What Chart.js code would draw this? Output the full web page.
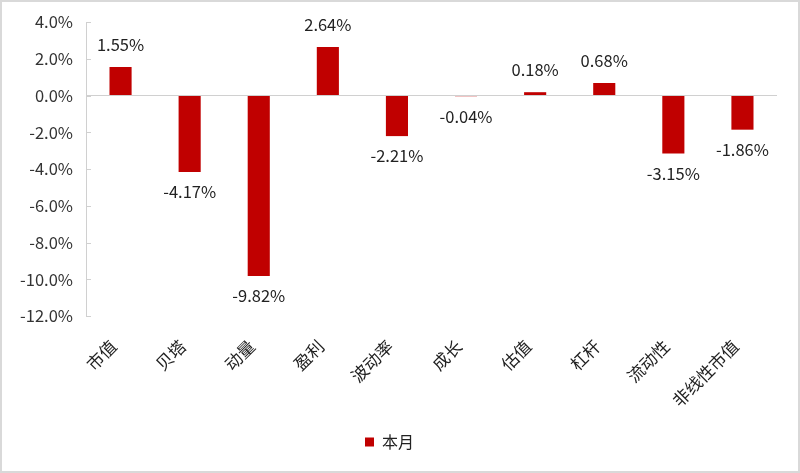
<!DOCTYPE html>
<html>
<head>
<meta charset="utf-8">
<script src="https://cdn.jsdelivr.net/npm/chart.js@4/dist/chart.umd.min.js"></script>
<style>
html,body{margin:0;padding:0;background:#fff;}
#wrap{width:800px;height:473px;box-sizing:border-box;border:2px solid #d9d9d9;position:relative;}
</style>
</head>
<body>
<div id="wrap"><canvas id="c"></canvas></div>
<script>
const categories = ['市值','贝塔','动量','盈利','波动率','成长','估值','杠杆','流动性','非线性市值'];
const seriesName = '本月';
const values = [1.55, -4.17, -9.82, 2.64, -2.21, -0.04, 0.18, 0.68, -3.15, -1.86];
const yMin = -12, yMax = 4, yStep = 2;

const FONT = '"Noto Sans CJK SC", "Noto Sans", sans-serif';
const RED = '#C00000';
const AXIS = '#d0d0d0';

const labelPlugin = {
  id: 'barLabels',
  afterDatasetsDraw(chart) {
    const ctx = chart.ctx;
    const meta = chart.getDatasetMeta(0);
    ctx.save();
    ctx.font = '16.5px ' + FONT;
    ctx.fillStyle = '#222';
    ctx.textAlign = 'center';
    ctx.textBaseline = 'middle';
    meta.data.forEach((bar, i) => {
      const v = values[i];
      const y = v >= 0 ? bar.y - 22 : bar.y + 20;
      ctx.fillText(v.toFixed(2) + '%', bar.x, y);
    });
    // inward tick marks on the y axis
    const ys = chart.scales.y;
    ctx.strokeStyle = AXIS;
    ctx.lineWidth = 1;
    ys.ticks.forEach(t => {
      const py = Math.round(ys.getPixelForValue(t.value)) + 0.5;
      ctx.beginPath();
      ctx.moveTo(ys.right, py);
      ctx.lineTo(ys.right + 5, py);
      ctx.stroke();
    });
    ctx.restore();
  }
};

new Chart(document.getElementById('c'), {
  type: 'bar',
  data: {
    labels: categories,
    datasets: [{
      label: seriesName,
      data: values,
      backgroundColor: RED,
      borderWidth: 0,
      barPercentage: 0.32,
      categoryPercentage: 1.0
    }]
  },
  options: {
    responsive: true,
    maintainAspectRatio: false,
    animation: false,
    layout: { padding: { top: 20, right: 21, left: 0, bottom: 11 } },
    plugins: {
      legend: {
        position: 'bottom',
        labels: {
          boxWidth: 9, boxHeight: 9,
          color: '#222',
          font: { size: 16, family: FONT },
          padding: 8
        }
      },
      tooltip: { enabled: false }
    },
    scales: {
      x: {
        grid: { display: false },
        border: { display: false },
        afterFit: s => { s.height = 110; s.paddingLeft = 0; s.paddingRight = 0; },
        ticks: {
          color: '#222',
          font: { size: 17, family: FONT },
          minRotation: 45, maxRotation: 45,
          autoSkip: false,
          padding: 12,
          labelOffset: -7
        }
      },
      y: {
        min: yMin, max: yMax,
        afterFit: s => { s.width = 84; s.paddingTop = 0; s.paddingBottom = 0; },
        ticks: {
          stepSize: yStep,
          color: '#333',
          font: { size: 16.5, family: FONT },
          padding: 13,
          callback: v => v.toFixed(1) + '%'
        },
        grid: {
          color: c => (c.tick && c.tick.value === 0) ? AXIS : 'rgba(0,0,0,0)',
          drawTicks: false,
          drawOnChartArea: true
        },
        border: { display: true, color: AXIS }
      }
    }
  },
  plugins: [labelPlugin]
});
</script>
</body>
</html>
